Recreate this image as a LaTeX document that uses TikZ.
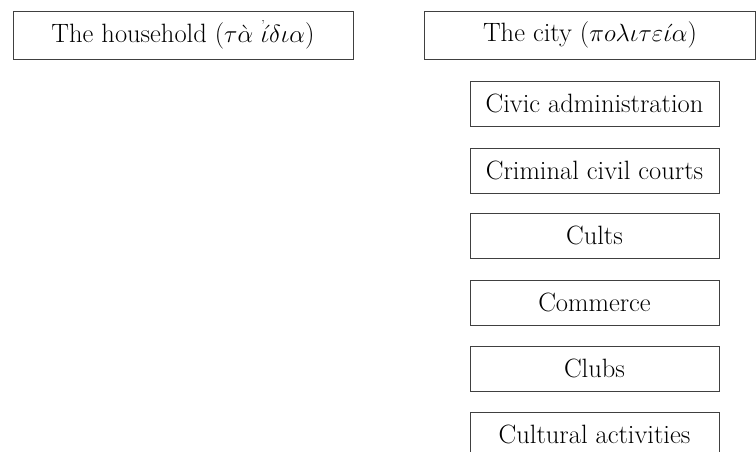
\documentclass[tikz,border=0pt]{standalone}
\usepackage{fontspec}
\setmainfont{Latin Modern Roman}
\newcommand{\grkiota}{\raisebox{0.47em}{\fontsize{13}{13}\selectfont ’}\kern-0.16em$\acute{\iota}$}
\begin{document}
\begin{tikzpicture}[x=1pt,y=-1pt,
  boxline/.style={draw=black!75,line width=0.9pt},
  headbox/.style={boxline,minimum height=48pt,inner sep=0pt,font=\fontsize{26.5}{30}\selectfont},
  itembox/.style={boxline,minimum width=249pt,minimum height=45pt,inner sep=0pt,font=\fontsize{26.5}{30}\selectfont}]
\useasboundingbox (0,0) rectangle (756,452);
\clip (0,0) rectangle (756,452);
\node[headbox,minimum width=340pt] (house) at (183,35) {The household ($\tau\grave{\alpha}$\ \grkiota$\delta\iota\alpha$)};
\node[headbox,minimum width=331pt] (city) at (590,35) {The city ($\pi o\lambda\iota\tau\varepsilon\acute{\iota}\alpha$)};
\node[itembox] (civic) at (594.5,103.5) {Civic administration};
\node[itembox] (courts) at (594.5,170.5) {Criminal civil courts};
\node[itembox] (cults) at (594.5,235.5) {Cults};
\node[itembox] (commerce) at (594.5,302.5) {Commerce};
\node[itembox] (clubs) at (594.5,368.5) {Clubs};
\node[itembox] (cultural) at (594.5,434.5) {Cultural activities};
\end{tikzpicture}
\end{document}
